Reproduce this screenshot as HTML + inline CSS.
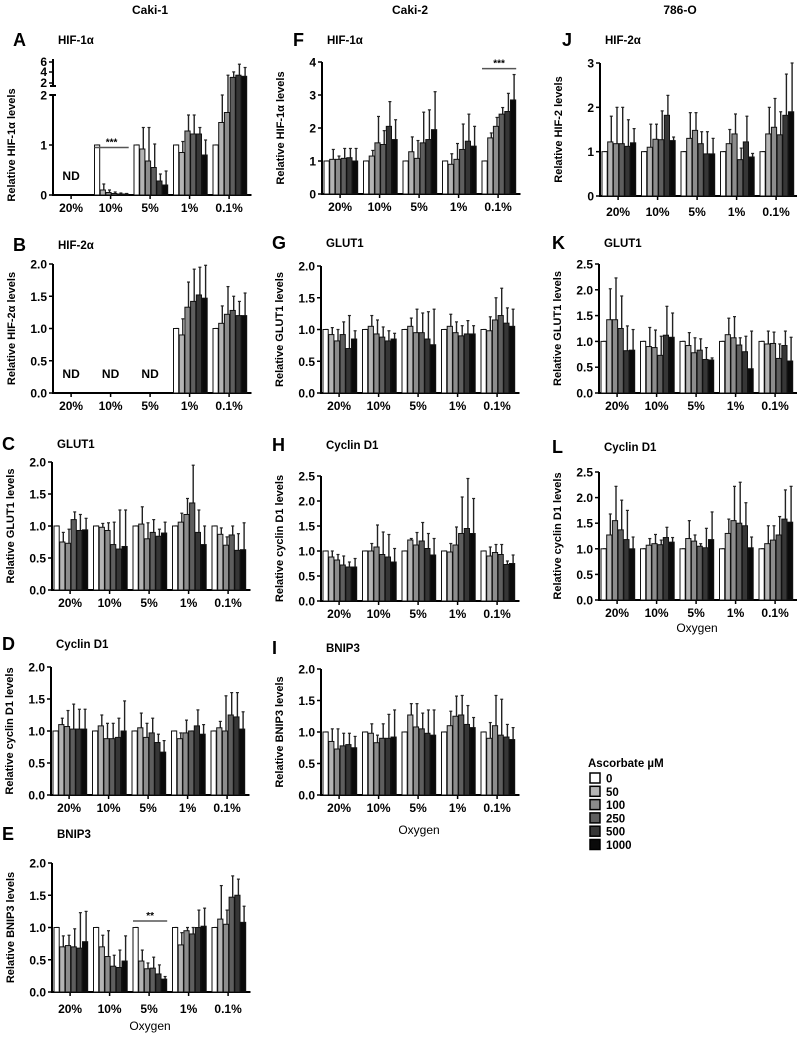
<!DOCTYPE html>
<html><head><meta charset="utf-8">
<style>
html,body{margin:0;padding:0;background:#fff;}
svg{display:block;font-family:"Liberation Sans",Arial,sans-serif;}
</style></head>
<body>
<svg id="fig" width="797" height="1043" viewBox="0 0 797 1043">
<text x="150" y="14" text-anchor="middle" font-size="12" font-weight="bold">Caki-1</text>
<text x="410" y="14" text-anchor="middle" font-size="12" font-weight="bold">Caki-2</text>
<text x="680" y="14" text-anchor="middle" font-size="12" font-weight="bold">786-O</text>
<g id="legend"></g>
</svg>
<script>
const categories = ["20%","10%","5%","1%","0.1%"];
const doses = ["0","50","100","250","500","1000"];
const colors = ["#ffffff","#b4b4b4","#8c8c8c","#5e5e5e","#363636","#0a0a0a"];

const A_mean=[null,[1,0.1,0.05,0.03,0.02,0.02],[1,0.92,0.68,0.55,0.28,0.2],[1,0.85,1.28,1.22,1.22,0.8],[1,1.45,1.65,3.2,3.6,3.4]];
const A_top =[null,[1,0.22,0.1,0.06,0.04,0.03],[1,1.35,1.35,1.02,0.42,0.48],[1,1.07,1.6,1.6,1.35,1.1],[1,2.0,3.6,4.2,5.6,5.0]];
const B_mean=[null,null,null,[1,0.9,1.33,1.42,1.52,1.47],[1,1.08,1.22,1.28,1.2,1.2]];
const B_top =[null,null,null,[1,1.15,1.72,1.92,1.95,1.98],[1,1.35,1.65,1.5,1.42,1.55]];
const C_mean=[[1,0.75,0.73,1.1,0.93,0.94],[1,0.98,0.93,0.71,0.64,0.68],[1,1.03,0.8,0.9,0.84,0.89],[1,1.06,1.18,1.36,0.9,0.71],[1,0.87,0.7,0.86,0.62,0.63]];
const C_top =[[1,0.9,0.95,1.22,1.18,1.12],[1,1.04,1.05,1.06,1.25,1.25],[1,1.3,1.05,1.1,0.95,1.06],[1,1.2,1.43,1.95,1.25,1.0],[1,0.97,0.83,1.0,0.88,1.05]];
const D_mean=[[1,1.1,1.07,1.03,1.03,1.03],[1,1.08,0.88,0.88,0.9,1.0],[1,1.05,0.9,0.97,0.82,0.67],[1,0.88,0.97,1.0,1.08,0.95],[1,1.05,1.0,1.25,1.22,1.03]];
const D_top =[[1,1.2,1.32,1.42,1.34,1.34],[1,1.25,1.12,1.12,1.2,1.47],[1,1.28,1.12,1.2,0.95,0.85],[1,0.97,1.17,1.0,1.33,1.1],[1,1.15,1.55,1.6,1.6,1.3]];
const E_mean=[[1,0.7,0.72,0.7,0.68,0.78],[1,0.7,0.55,0.4,0.38,0.48],[1,0.48,0.36,0.37,0.28,0.2],[1,0.73,0.95,0.9,1.0,1.02],[1,1.13,1.05,1.47,1.5,1.08]];
const E_top =[[1,0.87,0.88,0.98,1.23,1.25],[1,0.88,0.95,0.57,0.65,0.87],[1,0.65,0.45,0.54,0.42,0.24],[1,0.92,1.0,1.0,1.27,1.3],[1,1.65,1.27,1.8,1.75,1.33]];
const F_mean=[[1,1.05,1.05,1.08,1.1,1.0],[1,1.15,1.55,1.5,2.05,1.65],[1,1.28,1.08,1.55,1.65,1.95],[1,0.9,1.05,1.35,1.6,1.45],[1,1.7,2.05,2.42,2.5,2.85]];
const F_top =[[1,1.35,1.15,1.38,1.38,1.38],[1,1.32,2.35,1.92,2.8,2.25],[1,1.73,1.62,2.48,2.55,3.1],[1,1.22,1.53,2.12,2.42,2.05],[1,1.85,2.32,2.62,3.05,3.62]];
const G_mean=[[1,0.92,0.82,0.92,0.7,0.85],[1,1.05,0.93,0.88,0.82,0.85],[1,1.05,0.95,0.95,0.85,0.76],[1,1.05,0.95,0.9,0.93,0.93],[1,0.98,1.15,1.22,1.1,1.05]];
const G_top =[[1,1.03,1.0,1.12,1.22,0.98],[1,1.22,1.15,1.04,0.98,0.94],[1,1.18,1.32,1.26,1.28,1.32],[1,1.24,1.12,1.06,1.14,1.06],[1,1.2,1.5,1.65,1.34,1.32]];
const H_mean=[[1,0.88,0.82,0.72,0.68,0.68],[1,1.0,1.08,0.93,0.88,0.78],[1,1.22,1.12,1.2,1.05,0.92],[1,0.98,1.12,1.35,1.45,1.35],[1,0.9,0.97,0.93,0.73,0.75]];
const H_top =[[1,1.0,0.93,0.9,0.78,0.85],[1,1.15,1.52,1.38,1.33,1.05],[1,1.25,1.37,1.57,1.35,1.25],[1,1.15,1.48,2.08,2.45,2.05],[1,1.08,1.13,1.13,0.8,0.92]];
const I_mean=[[1,0.85,0.73,0.78,0.8,0.75],[1,0.98,0.83,0.9,0.9,0.92],[1,1.27,1.08,1.05,0.98,0.95],[1,1.1,1.25,1.27,1.12,1.07],[1,0.9,1.1,0.95,0.92,0.88]];
const I_top =[[1,1.05,1.05,0.98,0.98,0.93],[1,1.13,0.95,1.13,1.28,1.35],[1,1.45,1.45,1.3,1.35,1.35],[1,1.33,1.57,1.58,1.42,1.23],[1,1.15,1.58,1.52,1.12,1.07]];
const J_mean=[[1,1.22,1.18,1.18,1.12,1.2],[1,1.1,1.28,1.27,1.82,1.25],[1,1.3,1.48,1.18,0.95,0.95],[1,1.18,1.4,0.82,1.22,0.88],[1,1.4,1.55,1.38,1.82,1.9]];
const J_top =[[1,1.8,2.0,2.0,1.72,1.52],[1,1.62,1.62,1.92,2.27,1.33],[1,1.88,1.88,1.45,1.45,1.3],[1,1.5,1.85,1.08,1.8,0.96],[1,2.0,2.2,1.9,2.75,3.0]];
const K_mean=[[1,1.42,1.42,1.25,0.82,0.83],[1,0.9,0.88,0.73,1.12,1.08],[1,0.92,0.78,0.83,0.65,0.64],[1,1.13,1.07,0.93,0.8,0.47],[1,0.95,0.96,0.67,0.92,0.62]];
const K_top =[[1,2.02,2.23,1.88,1.3,1.23],[1,1.27,1.22,1.1,1.68,1.55],[1,1.17,1.07,1.05,0.88,0.68],[1,1.45,1.48,1.07,1.1,1.2],[1,1.2,1.18,0.95,1.2,1.08]];
const L_mean=[[1,1.27,1.55,1.37,1.18,1.0],[1,1.07,1.1,1.08,1.22,1.13],[1,1.2,1.15,1.05,1.02,1.18],[1,1.3,1.55,1.5,1.45,1.02],[1,1.1,1.17,1.27,1.58,1.52]];
const L_top =[[1,1.68,2.22,1.95,1.75,1.23],[1,1.2,1.28,1.17,1.42,1.22],[1,1.55,1.27,1.1,1.4,1.72],[1,1.58,2.22,2.3,1.9,1.23],[1,1.45,1.45,1.63,2.15,2.22]];

const tick2=["0.0","0.5","1.0","1.5","2.0"], tv2=[0,0.5,1,1.5,2];
const tick25=["0.0","0.5","1.0","1.5","2.0","2.5"], tv25=[0,0.5,1,1.5,2,2.5];

const NS="http://www.w3.org/2000/svg";
const svg=document.getElementById('fig');
function mk(tag,attrs,parent){const e=document.createElementNS(NS,tag);for(const k in attrs)e.setAttribute(k,attrs[k]);(parent||svg).appendChild(e);return e;}

const panels=[
 {id:'a',L:'A',title:'HIF-1α',yl:'Relative HIF-1α levels',ax:53,zero:195,top:95,ymax:2,mean:A_mean,tops:A_top,ticks:["0","1","2"],tv:[0,1,2],lx:13,ly:46,broken:true,nd:[0],sig:{g:1,v:0.95,from:0,to:5,t:'***'},labGap:17},
 {id:'b',L:'B',title:'HIF-2α',yl:'Relative HIF-2α levels',ax:53,zero:393,top:264,ymax:2,mean:B_mean,tops:B_top,ticks:tick2,tv:tv2,lx:13,ly:251,nd:[0,1,2],labGap:17},
 {id:'c',L:'C',title:'GLUT1',yl:'Relative GLUT1 levels',ax:52,zero:590,top:462,ymax:2,mean:C_mean,tops:C_top,ticks:tick2,tv:tv2,lx:2,ly:450,labGap:17},
 {id:'d',L:'D',title:'Cyclin D1',yl:'Relative cyclin D1 levels',ax:51,zero:795,top:667,ymax:2,mean:D_mean,tops:D_top,ticks:tick2,tv:tv2,lx:2,ly:650,labGap:17},
 {id:'e',L:'E',title:'BNIP3',yl:'Relative BNIP3 levels',ax:52,zero:992,top:863,ymax:2,mean:E_mean,tops:E_top,ticks:tick2,tv:tv2,lx:2,ly:840,sig:{g:2,v:1.1,from:0,to:5,t:'**'},labGap:21,oxy:1030},
 {id:'f',L:'F',title:'HIF-1α',yl:'Relative HIF-1α levels',ax:322,zero:194,top:62,ymax:4,mean:F_mean,tops:F_top,ticks:["0","1","2","3","4"],tv:[0,1,2,3,4],lx:293,ly:46,sig:{g:4,v:3.8,from:0,to:5,t:'***'},labGap:17},
 {id:'g',L:'G',title:'GLUT1',yl:'Relative GLUT1 levels',ax:321,zero:393,top:266,ymax:2,mean:G_mean,tops:G_top,ticks:tick2,tv:tv2,lx:272,ly:249,labGap:17},
 {id:'h',L:'H',title:'Cyclin D1',yl:'Relative cyclin D1 levels',ax:321,zero:601,top:476,ymax:2.5,mean:H_mean,tops:H_top,ticks:tick25,tv:tv25,lx:272,ly:451,labGap:17},
 {id:'i',L:'I',title:'BNIP3',yl:'Relative BNIP3 levels',ax:321,zero:795,top:669,ymax:2,mean:I_mean,tops:I_top,ticks:tick2,tv:tv2,lx:272,ly:654,labGap:17,oxy:834},
 {id:'j',L:'J',title:'HIF-2α',yl:'Relative HIF-2 levels',ax:600,zero:196,top:63,ymax:3,mean:J_mean,tops:J_top,ticks:["0","1","2","3"],tv:[0,1,2,3],lx:562,ly:46,labGap:20},
 {id:'k',L:'K',title:'GLUT1',yl:'Relative GLUT1 levels',ax:599,zero:393,top:264,ymax:2.5,mean:K_mean,tops:K_top,ticks:tick25,tv:tv25,lx:552,ly:249,labGap:17},
 {id:'l',L:'L',title:'Cyclin D1',yl:'Relative cyclin D1 levels',ax:599,zero:600,top:472,ymax:2.5,mean:L_mean,tops:L_top,ticks:tick25,tv:tv25,lx:552,ly:453,labGap:17,oxy:632}
];

const PITCH=39.5, BW=5.2, BP=5.7;
panels.forEach(p=>{
  const g=mk('g',{});
  
  
  const y=v=>{
    if(p.broken && v>2) return Math.max(59, 84-(v-2)*5.5);
    return p.zero-(v/p.ymax)*(p.zero-p.top);
  };
  const gx=i=>p.ax+2+i*PITCH;
  const letter=mk('text',{x:p.lx,y:p.ly,'font-size':18,'font-weight':'bold'},g);
  letter.textContent=p.L;
  
  
  const ttl=mk('text',{x:p.ax+5,y:p.ly-2,'font-size':11.5,'font-weight':'bold'},g);
  ttl.textContent=p.title;
  
  
  const cy=(p.zero+p.top)/2;
  const yt=mk('text',{x:p.ax-38,y:cy,'font-size':11,'font-weight':'bold','text-anchor':'middle',transform:`rotate(-90 ${p.ax-38} ${cy})`},g);
  yt.textContent=p.yl;
  
  
  if(p.broken){
    mk('line',{x1:p.ax,y1:p.zero,x2:p.ax,y2:95,stroke:'#000','stroke-width':2},g);
    mk('line',{x1:p.ax,y1:86,x2:p.ax,y2:59,stroke:'#000','stroke-width':2},g);
    mk('line',{x1:p.ax-3,y1:95,x2:p.ax+3,y2:95,stroke:'#000','stroke-width':2},g);
    mk('line',{x1:p.ax-3,y1:86,x2:p.ax+3,y2:86,stroke:'#000','stroke-width':2},g);
    [[6,62],[4,72],[2,83]].forEach(([t,yy])=>{
      const tx=mk('text',{x:p.ax-6,y:yy+4,'font-size':12,'font-weight':'bold','text-anchor':'end'},g);tx.textContent=t;
      mk('line',{x1:p.ax-4,y1:yy,x2:p.ax,y2:yy,stroke:'#000','stroke-width':1.5},g);
    });
  } else {
    mk('line',{x1:p.ax,y1:p.zero+1,x2:p.ax,y2:p.top,stroke:'#000','stroke-width':2},g);
  }
  const xa=mk('line',{x1:p.ax-1,y1:p.zero,x2:gx(5)-1,y2:p.zero,stroke:'#000','stroke-width':2},g);
  
  
  p.tv.forEach((v,i)=>{
    mk('line',{x1:p.ax-4,y1:y(v),x2:p.ax,y2:y(v),stroke:'#000','stroke-width':1.5},g);
    const t=mk('text',{x:p.ax-6,y:y(v)+4.5,'font-size':12,'font-weight':'bold','text-anchor':'end'},g);
    t.textContent=p.ticks[i];
    
    
  });
  categories.forEach((c,gi)=>{
    const cx=gx(gi)+3*BP-1;
    mk('line',{x1:cx,y1:p.zero,x2:cx,y2:p.zero+4,stroke:'#000','stroke-width':1.5},g);
    const t=mk('text',{x:cx,y:p.zero+p.labGap,'font-size':12,'font-weight':'bold','text-anchor':'middle'},g);
    t.textContent=c;
    
    
    const m=p.mean[gi];
    if(!m){
      const nd=mk('text',{x:cx,y:p.zero-15,'font-size':12,'font-weight':'bold','text-anchor':'middle'},g);
      nd.textContent='ND';
      
      
      return;
    }
    m.forEach((v,bi)=>{
      const x=gx(gi)+bi*BP;
      const yt2=y(p.tops[gi][bi]);
      const er=mk('line',{x1:x+BW/2+1,y1:y(v),x2:x+BW/2+1,y2:yt2,stroke:'#222','stroke-width':1.4},g);
      
      
      mk('line',{x1:x+BW/2-0.5,y1:yt2,x2:x+BW/2+2.5,y2:yt2,stroke:'#222','stroke-width':1.2},g);
      const r=mk('rect',{x:x,y:y(v),width:BW,height:Math.max(0.5,p.zero-y(v)),fill:colors[bi],stroke:'#111','stroke-width':1},g);
      
      
    });
  });
  if(p.sig){
    const s=p.sig, sx1=gx(s.g)+s.from*BP, sx2=gx(s.g)+(s.to+1)*BP, sy=y(s.v);
    const sl=mk('line',{x1:sx1,y1:sy,x2:sx2,y2:sy,stroke:'#555','stroke-width':1.5},g);
    
    
    const st=mk('text',{x:(sx1+sx2)/2,y:sy-2,'font-size':10,'font-weight':'bold','text-anchor':'middle'},g);
    st.textContent=s.t;
    
    
  }
  if(p.oxy){
    const o=mk('text',{x:p.ax+98,y:p.oxy,'font-size':12,'text-anchor':'middle'},g);
    o.textContent='Oxygen';
    
    
  }
});
const lg=document.getElementById('legend');
const lt=mk('text',{x:588,y:767,'font-size':11.5,'font-weight':'bold'},lg);
lt.textContent='Ascorbate µM';


doses.forEach((d,i)=>{
  const yy=773+i*13.3;
  const r=mk('rect',{x:590,y:yy,width:10,height:10,fill:colors[i],stroke:'#000','stroke-width':1.5},lg);
  
  
  const t=mk('text',{x:606,y:yy+9.5,'font-size':11.5,'font-weight':'bold'},lg);
  t.textContent=d;
  
  
});
</script>
</body></html>
